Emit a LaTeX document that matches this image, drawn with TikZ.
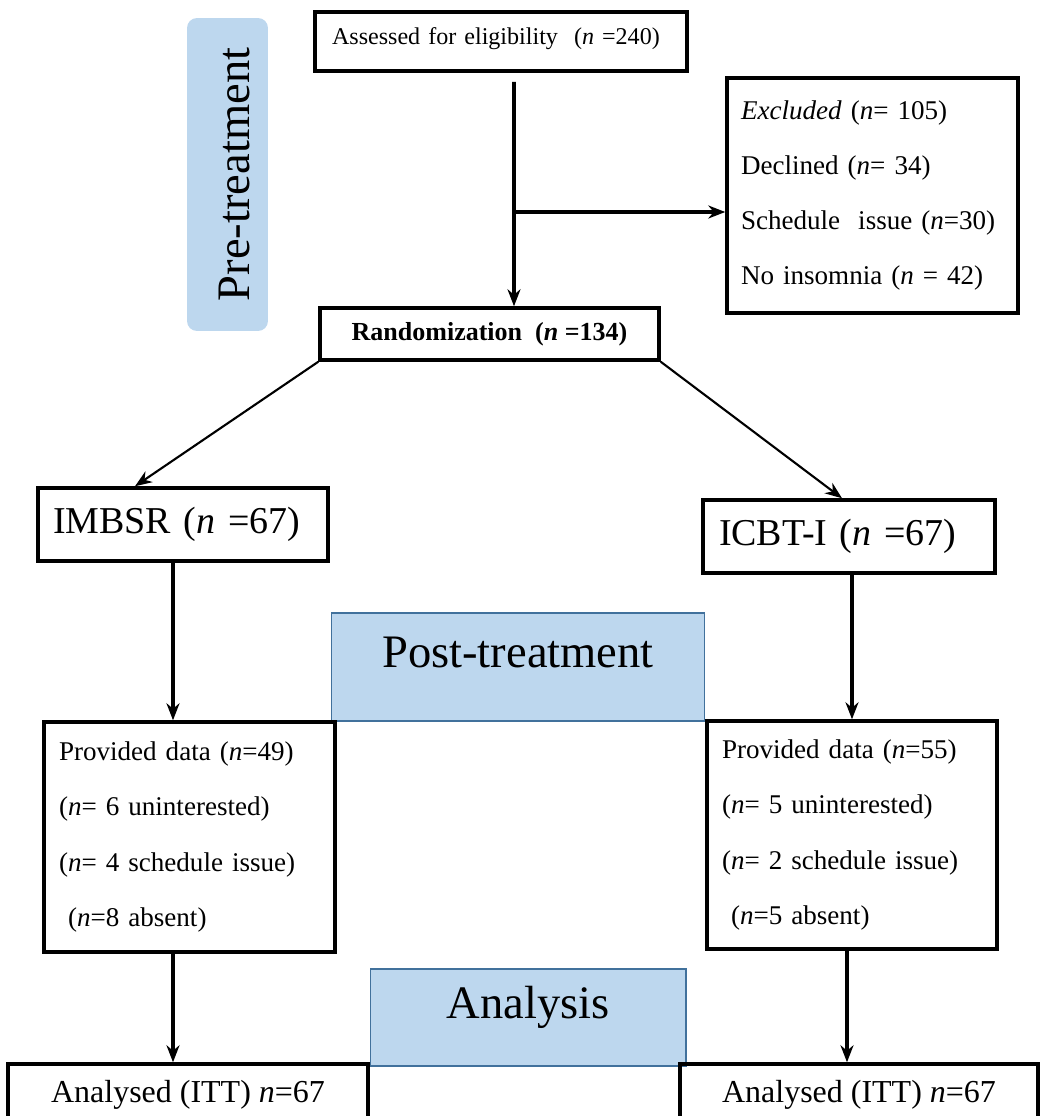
\documentclass[tikz,border=0pt]{standalone}
\usepackage{fontspec}
\setmainfont{Liberation Serif}
\usetikzlibrary{arrows.meta}
\definecolor{phasefill}{RGB}{189,215,238}
\definecolor{phaseedge}{RGB}{65,113,156}
\newcommand{\nn}{\textit{n}}

\tikzset{
	box/.style={draw=black, line width=2pt, inner sep=0pt},
	listbox/.style={box, align=left, inner xsep=0.3cm, text width=5.22cm, font=\fontsize{15.4}{31.4}\selectfont},
	armbox/.style={box, align=left, inner xsep=0.3cm, text width=5.2cm, minimum height=1.46cm, font=\fontsize{21.6}{26}\selectfont},
	endbox/.style={box, minimum height=1.22cm, font=\fontsize{18.2}{22}\selectfont},
	phase/.style={fill=phasefill, draw=phaseedge, line width=0.6pt, inner sep=0pt, font=\fontsize{26.5}{30}\selectfont},
	arr/.style={-{Stealth[length=3.4mm, width=2.6mm]}, line width=2.2pt},
	thinarr/.style={-{Stealth[length=3.4mm, width=2.6mm]}, line width=1.2pt}
}

\begin{document}
\begin{tikzpicture}[x=0.02cm, y=-0.02cm]

	\useasboundingbox (0,0) rectangle (1042,1116);
	\clip (0,0) rectangle (1042,1116);

	%phase labels
	\node[phase, draw=none, rounded corners=0.2cm, rotate=90, minimum width=6.26cm, text height=1.26cm, text depth=0.36cm] (pre) at (227.5,174.5) {Pre-treatment};
	\node[phase, minimum width=7.48cm, text height=1.08cm, text depth=1.08cm] (post) at (518,667) {Post-treatment};
	\node[phase, minimum width=6.32cm, text height=0.98cm, text depth=0.96cm] (ana) at (528,1017.5) {Analysis};

	%enrolment
	\node[box, align=left, inner xsep=0.34cm, text width=6.76cm, text height=0.64cm, text depth=0.54cm, font=\fontsize{13.7}{16}\selectfont] (assess) at (501,41.5) {Assessed for eligibility\ \ (\nn\ =240)};
	\node[listbox, inner xsep=0.28cm, text width=5.26cm, minimum height=4.7cm] (excl) at (872.5,195.5)
		{\textit{Excluded} (\nn= 105)\\Declined (\nn= 34)\\Schedule\ \ issue (\nn=30)\\No insomnia (\nn\ = 42)};
	\node[box, minimum width=6.78cm, minimum height=1.04cm, font=\bfseries\fontsize{14.8}{18}\selectfont] (rand) at (489.5,334) {Randomization\ \ (\nn\ =134)};

	%allocation
	\node[armbox] (imb) at (183,524.5) {IMBSR (\nn\ =67)};
	\node[armbox, inner xsep=0.32cm] (icbt) at (849,536.5) {ICBT-I (\nn\ =67)};

	%follow-up
	\node[listbox, minimum height=4.6cm] (provl) at (189.5,837)
		{Provided data (\nn=49)\\(\nn= 6 uninterested)\\(\nn= 4 schedule issue)\\\ (\nn=8 absent)};
	\node[listbox, text width=5.2cm, minimum height=4.56cm] (provr) at (852,835)
		{Provided data (\nn=55)\\(\nn= 5 uninterested)\\(\nn= 2 schedule issue)\\\ (\nn=5 absent)};

	%analysis
	\node[endbox, minimum width=7.2cm] (anll) at (188,1094.5) {Analysed (ITT) \nn=67};
	\node[endbox, minimum width=7.16cm] (anlr) at (859,1094.5) {Analysed (ITT) \nn=67};

	%connectors
	\draw[arr] ([xshift=0.26cm, yshift=-0.18cm]assess.south) -- ([xshift=0.49cm]rand.north);
	\coordinate (branch) at (514,212);
	\draw[arr] (branch) -- (branch -| excl.west);
	\draw[thinarr] (rand.south west) -- ([xshift=-0.96cm]imb.north);
	\draw[thinarr] (rand.south east) -- ([xshift=-0.14cm]icbt.north);
	\draw[arr] ([xshift=-0.2cm]imb.south) -- ([xshift=-0.2cm]imb.south |- provl.north);
	\draw[arr] ([xshift=0.06cm]icbt.south) -- ([xshift=0.06cm]icbt.south |- provr.north);
	\draw[arr] ([xshift=-0.33cm]provl.south) -- ([xshift=-0.33cm]provl.south |- anll.north);
	\draw[arr] ([xshift=-0.1cm]provr.south) -- ([xshift=-0.1cm]provr.south |- anlr.north);

\end{tikzpicture}
\end{document}
